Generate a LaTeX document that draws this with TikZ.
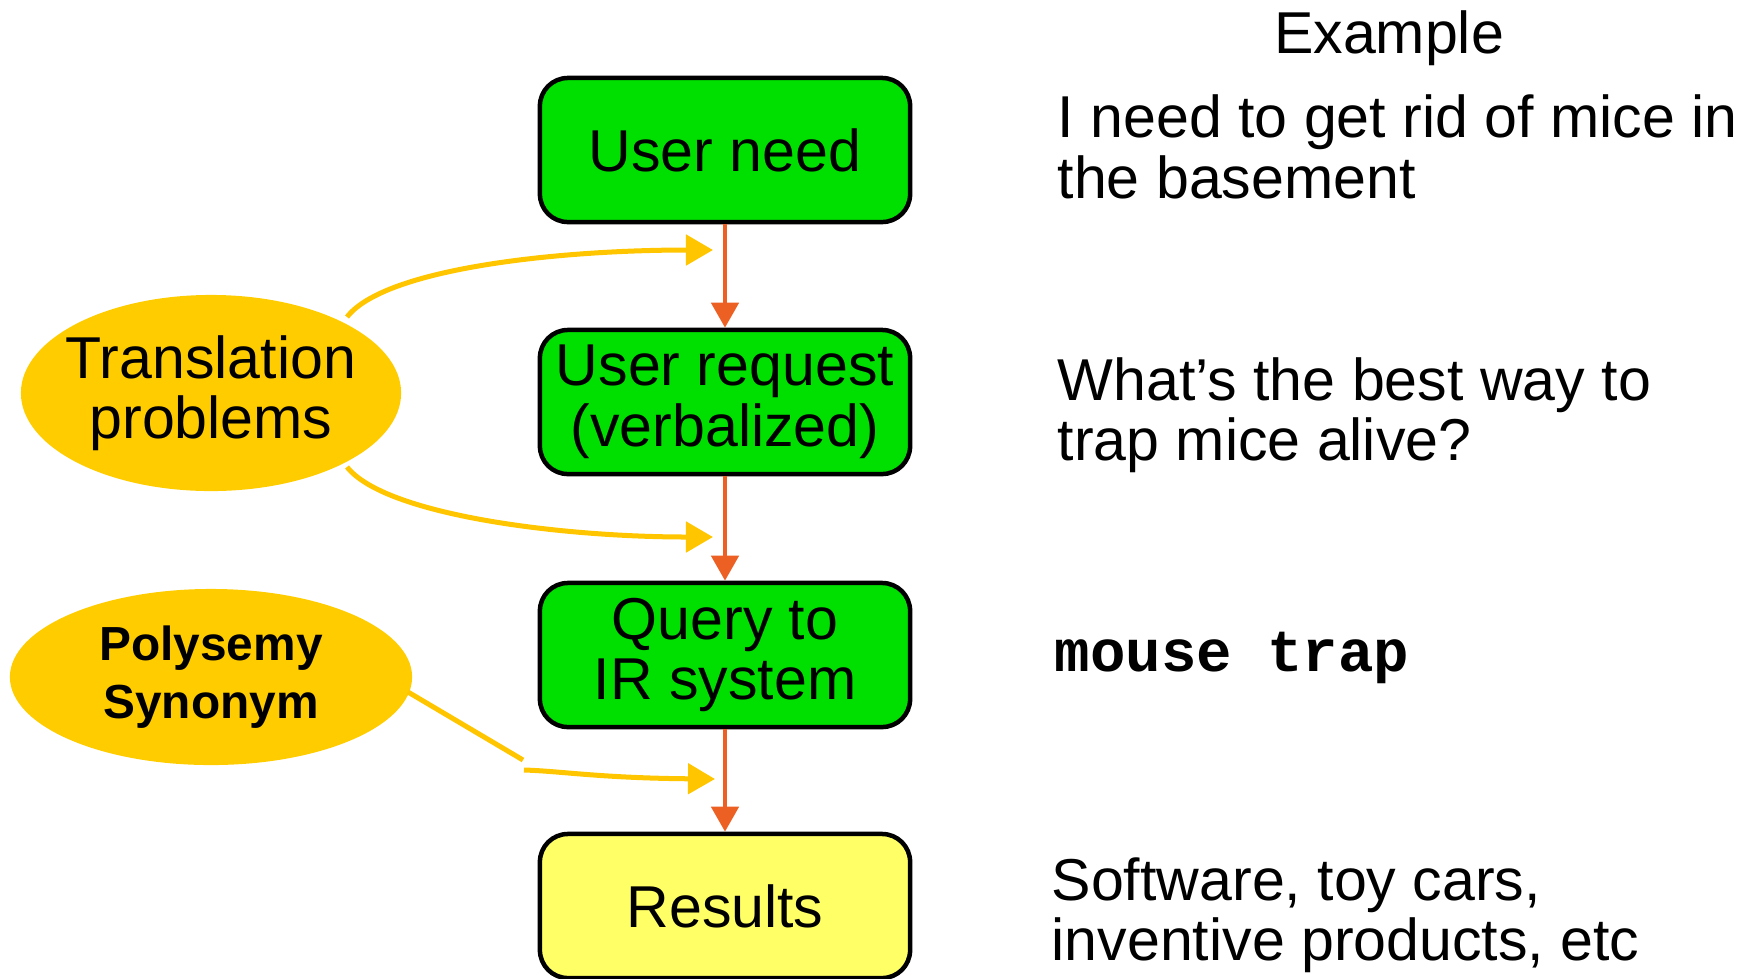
\documentclass[tikz,border=0pt]{standalone}
\usepackage{fontspec}
\setmainfont{Liberation Sans}
\newfontfamily\monob{Liberation Mono}
\usetikzlibrary{shapes.geometric,arrows.meta}
\definecolor{boxgreen}{RGB}{0,224,0}
\definecolor{resyellow}{RGB}{255,255,102}
\definecolor{gold}{RGB}{255,204,0}
\definecolor{arrorange}{RGB}{236,96,36}
\definecolor{arrgold}{RGB}{255,198,0}
\tikzset{
  stepbox/.style={draw=black, line width=0.045cm, rounded corners=0.28cm, fill=boxgreen,
    minimum width=3.7cm, minimum height=1.44cm, inner sep=0pt, align=center,
    font=\fontsize{16.8}{17.2}\selectfont},
  bubble/.style={ellipse, fill=gold, inner xsep=-0.6cm, inner ysep=-0.3cm, align=center},
  flow/.style={draw=arrorange, line width=0.045cm, -{Triangle[width=0.27cm,length=0.25cm]}},
  issue/.style={draw=arrgold, line width=0.05cm, -{Triangle[width=0.3cm,length=0.27cm]}},
  note/.style={anchor=west, align=left, inner sep=0pt, font=\fontsize{16.8}{17.2}\selectfont}
}
\begin{document}
\begin{tikzpicture}[x=0.01cm, y=-0.01cm]
\useasboundingbox (0,0) rectangle (1749,978);
% flow boxes
\node[stepbox] (need) at (725,150) {User need};
\node[stepbox] (req) at (725,402) {User request\\(verbalized)};
\node[stepbox] (query) at (725,655) {Query to\\IR system};
\node[stepbox, fill=resyellow] (res) at (725,906) {Results};
\draw[flow] (need) -- (req);
\draw[flow] (req) -- (query);
\draw[flow] (query) -- (res);
% bubbles
\node[bubble, minimum width=3.8cm, minimum height=1.96cm, font=\fontsize{16.8}{17.2}\selectfont] (tp) at (211,393) {Translation\\problems};
\node[bubble, minimum width=4.02cm, minimum height=1.76cm, font=\bfseries\fontsize{13.6}{16.4}\selectfont] (ps) at (211,677) {Polysemy\\Synonym};
% coordinates for issue arrows
\coordinate (t1s) at (347,317);
\coordinate (t1e) at (713,250);
\coordinate (t2s) at (347,467);
\coordinate (t2e) at (713,537);
\coordinate (p1s) at (408,692);
\coordinate (p1e) at (523,760);
\coordinate (p2s) at (524,770);
\coordinate (p2e) at (715,779);
\draw[issue] (t1s) .. controls (385,268) and (560,250) .. (t1e);
\draw[issue] (t2s) .. controls (385,515) and (560,537) .. (t2e);
\draw[draw=arrgold, line width=0.05cm] (p1s) -- (p1e);
\draw[issue] (p2s) .. controls (560,771) and (600,778) .. (p2e);
% examples
\node[font=\fontsize{16.8}{17.2}\selectfont, anchor=center] (ex) at (1389,38) {Example};
\node[note] (e1) at (1057,147) {I need to get rid of mice in\\the basement};
\node[note] (e2) at (1057,415) {What’s the best way to\\trap mice alive?};
\node[note, font=\monob\bfseries\fontsize{16.8}{17.5}\selectfont] (e3) at (1054,658) {mouse trap};
\node[note] (e4) at (1051,915) {Software, toy cars,\\inventive products, etc};
\end{tikzpicture}
\end{document}
